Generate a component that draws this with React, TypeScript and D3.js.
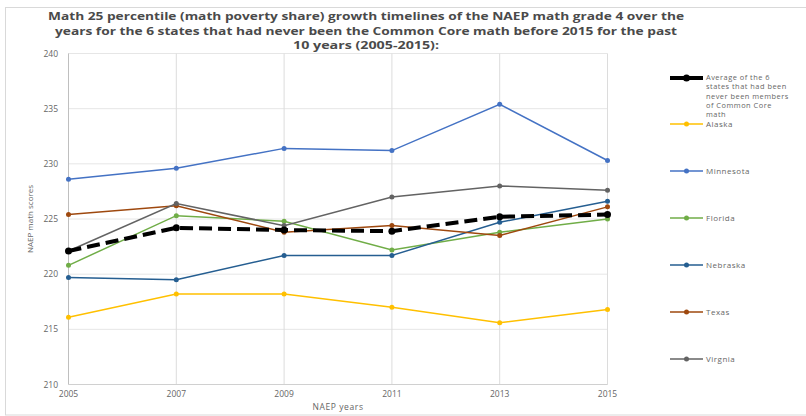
import React from "react";
import * as d3 from "d3";

const years = [2005, 2007, 2009, 2011, 2013, 2015];
const yTicks = [210, 215, 220, 225, 230, 235, 240];

const averageScores = [222.1, 224.2, 224.0, 223.9, 225.2, 225.4];
const alaska = [216.1, 218.2, 218.2, 217.0, 215.6, 216.8];
const minnesota = [228.6, 229.6, 231.4, 231.2, 235.4, 230.3];
const florida = [220.8, 225.3, 224.8, 222.2, 223.8, 225.0];
const nebraska = [219.7, 219.5, 221.7, 221.7, 224.7, 226.6];
const texas = [225.4, 226.2, 223.8, 224.4, 223.5, 226.1];
const virginia = [222.1, 226.4, 224.4, 227.0, 228.0, 227.6];

const seriesNames = ["Alaska", "Minnesota", "Florida", "Nebraska", "Texas", "Virgnia"];
const seriesColors = ["#FFC000", "#4472C4", "#70AD47", "#255E91", "#9E480E", "#636363"];
const seriesValues = [alaska, minnesota, florida, nebraska, texas, virginia];

const averageLabel = [
  "Average of the 6",
  "states that had been",
  "never been members",
  "of Common Core",
  "math",
];

const titleLines = [
  "Math 25 percentile (math  poverty share) growth timelines of the NAEP math  grade 4 over the",
  "years for the 6 states that had never been the Common Core math before 2015 for the past",
  "10 years (2005-2015):",
];
const titleWidths = [636, 622, 146];

export default function App() {
  const W = 806;
  const H = 416;
  const x = d3.scaleLinear().domain([2005, 2015]).range([68.5, 607.5]);
  const y = d3.scaleLinear().domain([210, 240]).range([384.5, 53.5]);
  const line = d3
    .line<number>()
    .x((_, i) => x(years[i]))
    .y((d) => y(d));

  const font = "'Open Sans', 'Liberation Sans', sans-serif";
  const legendX0 = 670;
  const legendX1 = 703;
  const legendRows = [124, 171, 218, 265, 312, 359];

  return (
    <svg
      width={W}
      height={H}
      style={{ position: "absolute", left: 0, top: 0, background: "#fff" }}
      fontFamily={font}
    >
      <rect x={0} y={0} width={W} height={H} fill="#fff" />
      <rect x={5.5} y={7.5} width={830} height={407.5} fill="none" stroke="#d9d9d9" strokeWidth={1} />

      {/* title */}
      {titleLines.map((t, i) => (
        <text
          key={i}
          x={366}
          y={20 + i * 14.7}
          textAnchor="middle"
          fontSize={11.2}
          fontWeight="bold"
          fill="#4a4a4a"
          textLength={titleWidths[i]}
          lengthAdjust="spacingAndGlyphs"
        >
          {t}
        </text>
      ))}

      {/* grid */}
      {yTicks.map((t) => (
        <line key={"h" + t} x1={x(2005)} x2={x(2015)} y1={y(t)} y2={y(t)} stroke="#e6e6e6" strokeWidth={1} />
      ))}
      {years.map((yr) => (
        <line key={"v" + yr} x1={x(yr)} x2={x(yr)} y1={y(240)} y2={y(210)} stroke="#dcdcdc" strokeWidth={1} />
      ))}
      <line x1={x(2005)} x2={x(2005)} y1={y(240)} y2={y(210)} stroke="#bfbfbf" strokeWidth={1} />
      <line x1={x(2005)} x2={x(2015)} y1={y(210)} y2={y(210)} stroke="#d0d0d0" strokeWidth={1} />

      {/* y ticks */}
      {yTicks.map((t) => (
        <text key={"yt" + t} x={58} y={y(t) + 3} textAnchor="end" fontSize={8.5} fill="#666">
          {t}
        </text>
      ))}
      {/* x ticks */}
      {years.map((yr) => (
        <text key={"xt" + yr} x={x(yr)} y={397} textAnchor="middle" fontSize={8.5} fill="#666">
          {yr}
        </text>
      ))}
      <text x={338} y={410} textAnchor="middle" fontSize={8.5} fill="#666" letterSpacing={0.6}>
        NAEP years
      </text>
      <text
        transform={`translate(33,${y(225)}) rotate(-90)`}
        textAnchor="middle"
        fontSize={8}
        fill="#666"
      >
        NAEP math scores
      </text>

      {/* series */}
      {seriesValues.map((vals, si) => (
        <g key={"s" + si}>
          <path d={line(vals) || ""} fill="none" stroke={seriesColors[si]} strokeWidth={1.5} />
          {vals.map((v, i) => (
            <circle key={i} cx={x(years[i])} cy={y(v)} r={2.5} fill={seriesColors[si]} />
          ))}
        </g>
      ))}

      {/* average */}
      <path
        d={line(averageScores) || ""}
        fill="none"
        stroke="#000"
        strokeWidth={4}
        strokeDasharray="13,6"
      />
      {averageScores.map((v, i) => (
        <circle key={"a" + i} cx={x(years[i])} cy={y(v)} r={3.5} fill="#000" />
      ))}

      {/* legend */}
      <line x1={legendX0} x2={legendX1} y1={78} y2={78} stroke="#000" strokeWidth={4} />
      <circle cx={(legendX0 + legendX1) / 2} cy={78} r={3.5} fill="#000" />
      {averageLabel.map((t, i) => (
        <text key={"al" + i} x={706} y={80 + i * 9.3} fontSize={7.4} fill="#666" letterSpacing={0.5}>
          {t}
        </text>
      ))}
      {seriesNames.map((n, si) => (
        <g key={"l" + si}>
          <line
            x1={legendX0}
            x2={legendX1}
            y1={legendRows[si]}
            y2={legendRows[si]}
            stroke={seriesColors[si]}
            strokeWidth={1.5}
          />
          <circle cx={(legendX0 + legendX1) / 2} cy={legendRows[si]} r={2.5} fill={seriesColors[si]} />
          <text x={706} y={legendRows[si] + 3} fontSize={8} fill="#666" letterSpacing={0.5}>
            {n}
          </text>
        </g>
      ))}
    </svg>
  );
}
